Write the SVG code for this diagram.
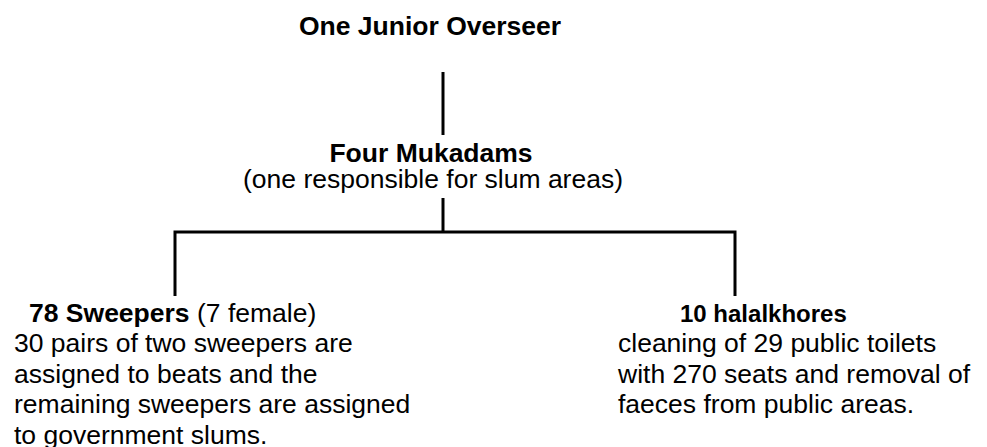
<svg xmlns="http://www.w3.org/2000/svg" width="987" height="447" viewBox="0 0 987 447">
  <style>
    text { font-family: "Liberation Sans", Arial, sans-serif; font-size: 26.5px; fill: #000; }
    .b { font-weight: bold; }
    .mid { text-anchor: middle; }
    .conn { stroke: #000; stroke-width: 3; fill: none; }
  </style>
  <rect width="987" height="447" fill="#fff"/>

  <!-- connectors -->
  <g id="connectors">
    <line class="conn" x1="443" y1="72" x2="443" y2="135"/>
    <line class="conn" x1="443" y1="198" x2="443" y2="232"/>
    <polyline class="conn" points="175,296 175,232 735,232 735,296"/>
  </g>

  <g id="overseer">
    <text class="b mid" x="430" y="35">One Junior Overseer</text>
  </g>

  <g id="mukadams">
    <text class="b mid" x="431" y="162">Four Mukadams</text>
    <text class="mid" x="433" y="188">(one responsible for slum areas)</text>
  </g>

  <g id="sweepers">
    <text x="29" y="322"><tspan class="b">78 Sweepers</tspan> (7 female)</text>
    <text x="14" y="352">30 pairs of two sweepers are</text>
    <text x="14" y="383">assigned to beats and the</text>
    <text x="14" y="413">remaining sweepers are assigned</text>
    <text x="14" y="444">to government slums.</text>
  </g>

  <g id="halalkhores">
    <text class="b" x="680" y="322" style="font-size:24px">10 halalkhores</text>
    <text x="618" y="352">cleaning of 29 public toilets</text>
    <text x="618" y="383">with 270 seats and removal of</text>
    <text x="618" y="413">faeces from public areas.</text>
  </g>
</svg>
